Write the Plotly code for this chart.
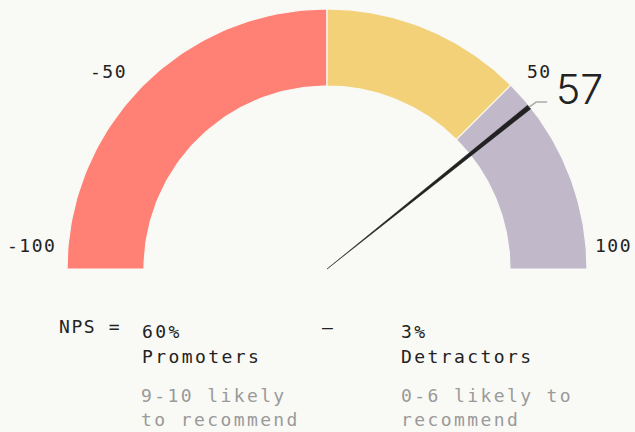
import math
import plotly.graph_objects as go

# ---- data ----
band_edges = [-100, 0, 50, 100]
band_colors = ["#ff8075", "#f3d179", "#c1b8ca"]
tick_values = [-100, -50, 50, 100]
tick_labels = ["-100", "-50", "50", "100"]
nps_value = 57
promoters_pct = 60
detractors_pct = 3

BG = "#f9f9f5"
DARK = "#222222"
GRAY = "#9a9a9a"
MONO = "DejaVu Sans Mono"

R_OUT, R_IN = 260, 183
VMIN, VMAX = -100, 100


def ang(v):
    return math.pi * (1 - (v - VMIN) / (VMAX - VMIN))


def pol(v, r):
    a = ang(v)
    return r * math.cos(a), r * math.sin(a)


fig = go.Figure()

# bands
for lo, hi, col in zip(band_edges[:-1], band_edges[1:], band_colors):
    n = 80
    vs = [lo + (hi - lo) * i / n for i in range(n + 1)]
    xs = [pol(v, R_OUT)[0] for v in vs] + [pol(v, R_IN)[0] for v in reversed(vs)]
    ys = [pol(v, R_OUT)[1] for v in vs] + [pol(v, R_IN)[1] for v in reversed(vs)]
    fig.add_trace(go.Scatter(x=xs + [xs[0]], y=ys + [ys[0]], fill="toself", fillcolor=col,
                             mode="lines", line=dict(color=BG, width=1.2),
                             hoverinfo="skip", showlegend=False))

# needle
a = ang(nps_value)
tip = (259 * math.cos(a), 259 * math.sin(a))
px, py = -math.sin(a), math.cos(a)
hw = 2.4
fig.add_trace(go.Scatter(
    x=[0, tip[0] + px * hw, tip[0] - px * hw, 0],
    y=[0, tip[1] + py * hw, tip[1] - py * hw, 0],
    fill="toself", fillcolor=DARK, mode="lines", line=dict(color=DARK, width=0.5),
    hoverinfo="skip", showlegend=False))

# leader line to value label
lead = [(tip[0], tip[1]), (tip[0] + 7, tip[1] + 5), (tip[0] + 18, tip[1] + 5)]
fig.add_trace(go.Scatter(x=[p[0] for p in lead], y=[p[1] for p in lead], mode="lines",
                         line=dict(color="#aaaaaa", width=1.5), hoverinfo="skip", showlegend=False))

annotations = []
# value label
annotations.append(dict(x=lead[-1][0] + 7, y=lead[-1][1] + 13, text=str(nps_value),
                        xanchor="left", yanchor="middle", showarrow=False,
                        font=dict(family="Inter", size=41, color=DARK, weight=300)))

# tick labels
tick_pos = {-100: (175, 270, "right"), -50: (135, 280, "right"),
            50: (45, 280, "left"), 100: (5, 267, "left")}
for v, lab in zip(tick_values, tick_labels):
    deg, r, xa = tick_pos[v]
    t = math.radians(deg)
    annotations.append(dict(x=r * math.cos(t), y=r * math.sin(t),
                            text=f'<span style="letter-spacing:1.5px">{lab}</span>',
                            xanchor=xa, yanchor="middle", showarrow=False,
                            font=dict(family=MONO, size=18, color=DARK)))


def txt(x, y, s, color=DARK, size=18, ls=2.4):
    annotations.append(dict(x=x, y=y, text=f'<span style="letter-spacing:{ls}px">{s}</span>',
                            xanchor="left", yanchor="middle", showarrow=False,
                            font=dict(family=MONO, size=size, color=color)))


txt(-270, -57, "NPS =", size=18, ls=1.6)
txt(-187, -62, f"{promoters_pct}%")
txt(-187, -87, "Promoters")
txt(-188, -126, "9-10 likely", GRAY)
txt(-188, -150, "to recommend", GRAY)
annotations.append(dict(x=0, y=-58, text="–", xanchor="center", yanchor="middle", showarrow=False,
                        font=dict(family=MONO, size=18, color=DARK)))
txt(72, -62, f"{detractors_pct}%")
txt(72, -87, "Detractors")
txt(72, -126, "0-6 likely to", GRAY)
txt(72, -150, "recommend", GRAY)

fig.update_layout(
    width=635, height=432,
    margin=dict(l=0, r=0, t=0, b=0),
    paper_bgcolor=BG, plot_bgcolor=BG,
    xaxis=dict(range=[-327, 308], visible=False, fixedrange=True),
    yaxis=dict(range=[-163, 269], visible=False, fixedrange=True),
    annotations=annotations,
    showlegend=False,
)

fig.write_html("out.html", config={"displayModeBar": False},
               post_script="document.body.style.margin='0';document.body.style.background='%s';" % BG)
